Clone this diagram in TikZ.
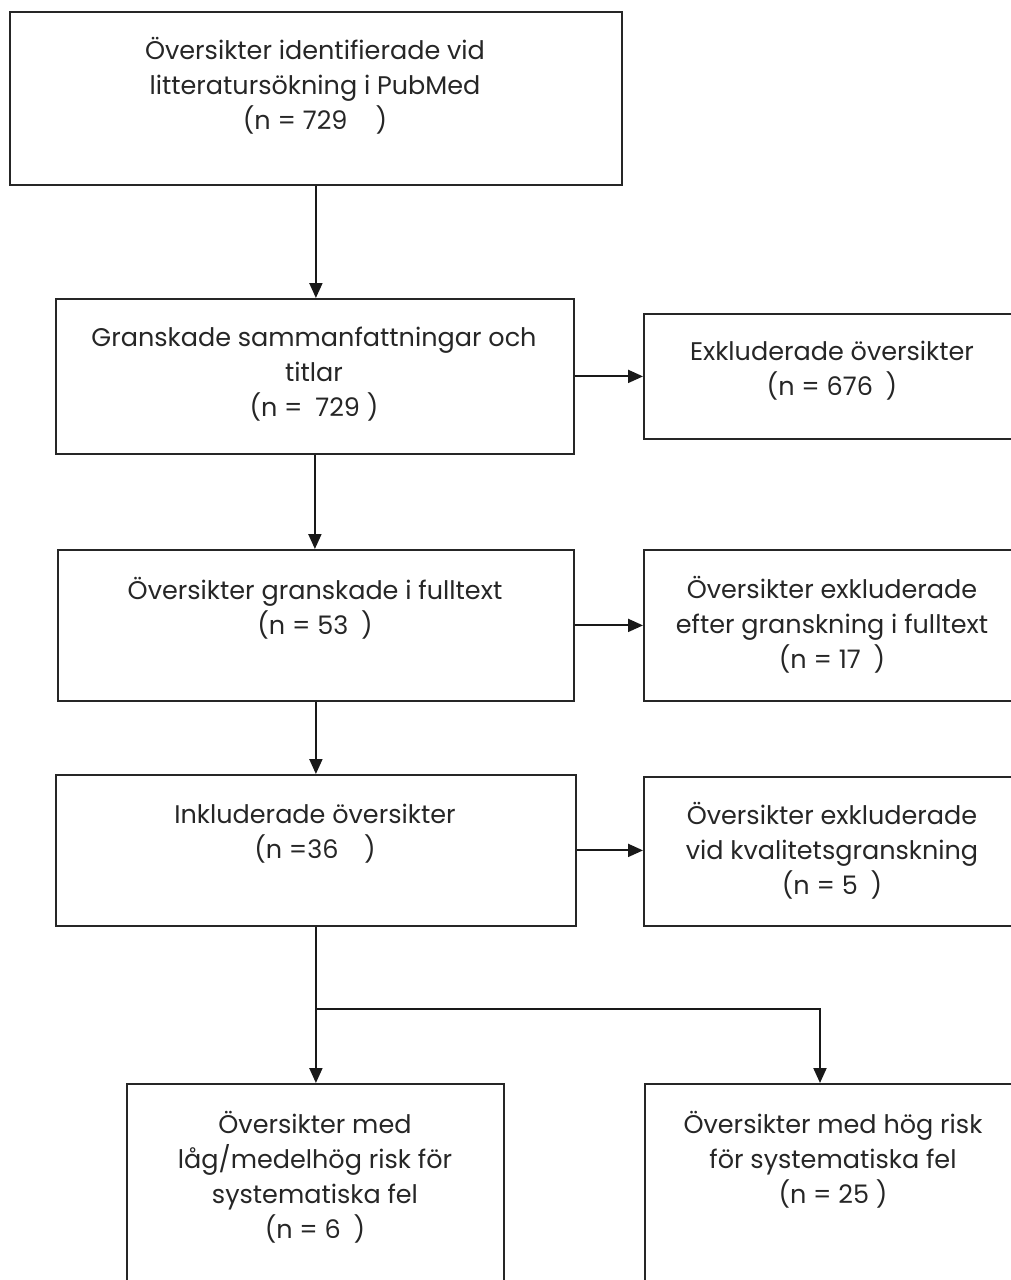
\documentclass[tikz,border=0pt]{standalone}
\usepackage{fontspec}
\setmainfont{Poppins}
\usetikzlibrary{arrows.meta}
\begin{document}
\begin{tikzpicture}[x=1pt,y=-1pt,
  box/.style={draw=black!85,line width=1.8pt,rectangle,inner sep=0pt,anchor=north west},
  txt/.style={align=center,inner sep=0pt,font=\fontsize{25.5}{35}\selectfont,text=black!85},
  arr/.style={draw=black!90,line width=2pt,-{Triangle[length=15pt,width=13pt]}},
  ln/.style={draw=black!90,line width=2pt}]
\useasboundingbox (0,0) rectangle (1011,1280);
\clip (0,0) rectangle (1011,1280);
% boxes
\node[box,minimum width=612pt,minimum height=173pt] (b1) at (9,11) {};
\node[box,minimum width=518pt,minimum height=155pt] (b2) at (55,298) {};
\node[box,minimum width=380pt,minimum height=125pt] (b3) at (643,313) {};
\node[box,minimum width=516pt,minimum height=151pt] (b4) at (57,549) {};
\node[box,minimum width=380pt,minimum height=151pt] (b5) at (643,549) {};
\node[box,minimum width=520pt,minimum height=151pt] (b6) at (55,774) {};
\node[box,minimum width=380pt,minimum height=149pt] (b7) at (643,776) {};
\node[box,minimum width=377pt,minimum height=220pt] (b8) at (126,1083) {};
\node[box,minimum width=380pt,minimum height=220pt] (b9) at (644,1083) {};
% texts
\node[txt] (t1) at (315,86) {Översikter identifierade vid\\litteratursökning i PubMed\\(n = 729\hspace{1.1em})};
\node[txt] (t2) at (314,374) {Granskade sammanfattningar och\\titlar\\(n =\hspace{0.5em}729 )};
\node[txt] (t3) at (832,371) {Exkluderade översikter\\(n = 676\hspace{0.5em})};
\node[txt] (t4) at (315,608) {Översikter granskade i fulltext\\(n = 53\hspace{0.5em})};
\node[txt] (t5) at (832,625) {Översikter exkluderade\\efter granskning i fulltext\\(n = 17\hspace{0.5em})};
\node[txt] (t6) at (315,834) {Inkluderade översikter\\(n =36\hspace{1em})};
\node[txt] (t7) at (832,851) {Översikter exkluderade\\vid kvalitetsgranskning\\(n = 5\hspace{0.5em})};
\node[txt] (t8) at (315,1177) {Översikter med\\låg/medelhög risk för\\systematiska fel\\(n = 6\hspace{0.5em})};
\node[txt] (t9) at (833,1160) {Översikter med hög risk\\för systematiska fel\\(n = 25 )};
% connectors
\draw[arr] (b1.south) -- (b1.south |- b2.north);
\draw[arr] (b2.south) -- (b2.south |- b4.north);
\draw[arr] (b4.south) -- (b4.south |- b6.north);
\draw[arr] (b2.east) -- (b3.west |- b2.east);
\draw[arr] (b4.east) -- (b5.west |- b4.east);
\draw[arr] (b6.east) -- (b7.west |- b6.east);
\coordinate (br) at (315,1009);
\coordinate (rt) at (820,1083);
\draw[arr] (b6.south) -- (b6.south |- b8.north);
\draw[arr] (br) -| (rt);
\end{tikzpicture}
\end{document}
